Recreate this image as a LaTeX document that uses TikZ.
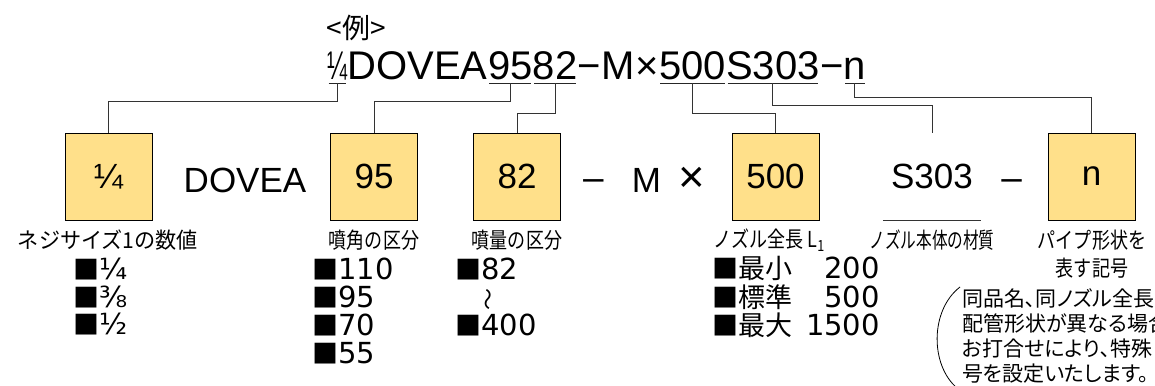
\documentclass[tikz,border=0pt]{standalone}
\usepackage{fontspec}
\usepackage{graphicx}
\setmainfont{Liberation Sans}
\newfontfamily\jp{Noto Sans CJK JP}
\newfontfamily\jpp[RawFeature=+palt]{Noto Sans CJK JP}
\newfontfamily\listfont{DejaVu Sans}
\usetikzlibrary{positioning}

\definecolor{fieldyellow}{RGB}{255,224,138}
\newcommand{\squeeze}[2]{\scalebox{#1}[1]{#2}}
\newcommand{\sq}{{\jp\fontsize{26}{26}\selectfont ■}}

\begin{document}
\begin{tikzpicture}[
	x=1pt, y=-1pt,
	code/.style={
		inner sep=0,
		anchor=base west,
		font=\fontsize{40}{44}\selectfont
	},
	field/.style={
		rectangle,
		draw=black,
		line width=0.9pt,
		fill=fieldyellow,
		inner sep=0,
		minimum height=87pt,
		minimum width=87pt,
		font=\fontsize{35}{40}\selectfont
	},
	codepart/.style={
		inner sep=0,
		anchor=base,
		font=\fontsize{35}{40}\selectfont
	},
	fieldname/.style={
		inner sep=0,
		font=\jp\fontsize{22}{24}\selectfont
	},
	listitem/.style={
		inner sep=0,
		anchor=base west,
		font=\listfont\fontsize{29}{30}\selectfont
	},
	remark/.style={
		inner sep=0,
		anchor=base west,
		font=\jpp\fontsize{21}{24}\selectfont
	},
	uline/.style={line width=1pt, black!85},
	conn/.style={line width=1pt, black!80},
]

\useasboundingbox (0,0) rectangle (1155,385);

% example code
\node[inner sep=0, font=\jp\fontsize{28}{30}\selectfont] (example) at (356,28) {<例>};

\node[code] (t14) at (327,80) {\squeeze{0.6}{¼}};
\node[code] (tdovea) at (t14.base east) {DOVEA};
\node[code] (t95) at (tdovea.base east) {95};
\node[code] (t82) at (t95.base east) {82};
\node[code] (tdash) at (t82.base east) {−};
\node[code] (tm) at (tdash.base east) {M};
\node[code] (tx) at (tm.base east) {×};
\node[code] (t500) at (tx.base east) {500};
\node[code] (ts303) at (t500.base east) {S303};
\node[code] (tdash2) at (ts303.base east) {−};
\node[code] (tn) at (tdash2.base east) {n};

\foreach \s in {14,95,82,500,s303,n}
	\draw[uline] ([shift={(1.5,3.5)}]t\s.base west) -- coordinate[midway] (u\s) ([shift={(-1.5,3.5)}]t\s.base east);

% broken down
\node[field] (b14) at (108.5,176.5) {¼};
\node[codepart] (mdovea) at (245,192) {DOVEA};
\node[field] (b95) at (374,176.5) {95};
\node[field] (b82) at (517,176.5) {82};
\node[codepart] (mdash) at (593.5,192) {\squeeze{1.2}{−}};
\node[codepart] (mm) at (646.5,192) {M};
\node[codepart] (mx) at (691.5,192) {\scalebox{1.3}{×}};
\node[field] (b500) at (775.5,176.5) {500};
\node[inner sep=0, minimum height=87pt, minimum width=98pt, font=\fontsize{35}{40}\selectfont] (bs303) at (932,176.5) {S303};
\node[codepart] (mdash2) at (1011.5,192) {\squeeze{1.2}{−}};
\node[field] (bn) at (1091.5,176.5) {n};

\draw[conn] (bs303.south west) -- (bs303.south east);

\foreach \s/\d in {14/18.2, 95/18.2, 82/30, 500/30, s303/22.3, n/14.5}
	\draw[conn] (u\s) -- ++(0,\d) -| (b\s.north);

% names of the fields
\node[fieldname] (c14) at (108,240) {\squeeze{0.96}{ネジサイズ1の数値}};
\node[fieldname] (c95) at (374,240) {\squeeze{0.82}{噴角の区分}};
\node[fieldname] (c82) at (517,240) {\squeeze{0.82}{噴量の区分}};
\node[fieldname] (c500) at (769,240) {\squeeze{0.82}{ノズル全長 L\textsubscript{1}}};
\node[fieldname] (cs303) at (932,240) {\squeeze{0.71}{ノズル本体の材質}};
\node[fieldname] (cn) at (1092,240) {\squeeze{0.82}{パイプ形状を}};
\node[fieldname] (cn2) at (1092,268) {\squeeze{0.82}{表す記号}};

% values
\foreach \v [count=\i] in {¼,⅜,½}
	\node[listitem] (size\i) at (73,252+27.5*\i) {\sq\v};
\foreach \v [count=\i] in {110,95,70,55}
	\node[listitem] (angle\i) at (312,251+28*\i) {\sq\v};
\node[listitem] (flow1) at (455,279) {\sq 82};
\node[rotate=90, inner sep=0, font=\jp\fontsize{22}{22}\selectfont] (flow2) at (491,299) {〜};
\node[listitem] (flow3) at (455,335) {\sq 400};
\foreach \w/\lv [count=\i] in {最小/200, 標準/500, 最大/1500} {
	\node[listitem] (len\i) at (712,250+28.5*\i) {\sq{\jp\fontsize{27}{30}\selectfont\w}};
	\node[listitem, anchor=base east] (lenv\i) at (880,250+28.5*\i) {\lv};
}

% note
\draw[line width=0.8pt] (960,287) .. controls (930,310) and (930,365) .. (957,388);
\foreach \t [count=\i] in {同品名､同ノズル全長, 配管形状が異なる場合, お打合せにより､特殊, 号を設定いたします。}
	\node[remark] (note\i) at (962,281+25*\i) {\t};

\end{tikzpicture}
\end{document}
